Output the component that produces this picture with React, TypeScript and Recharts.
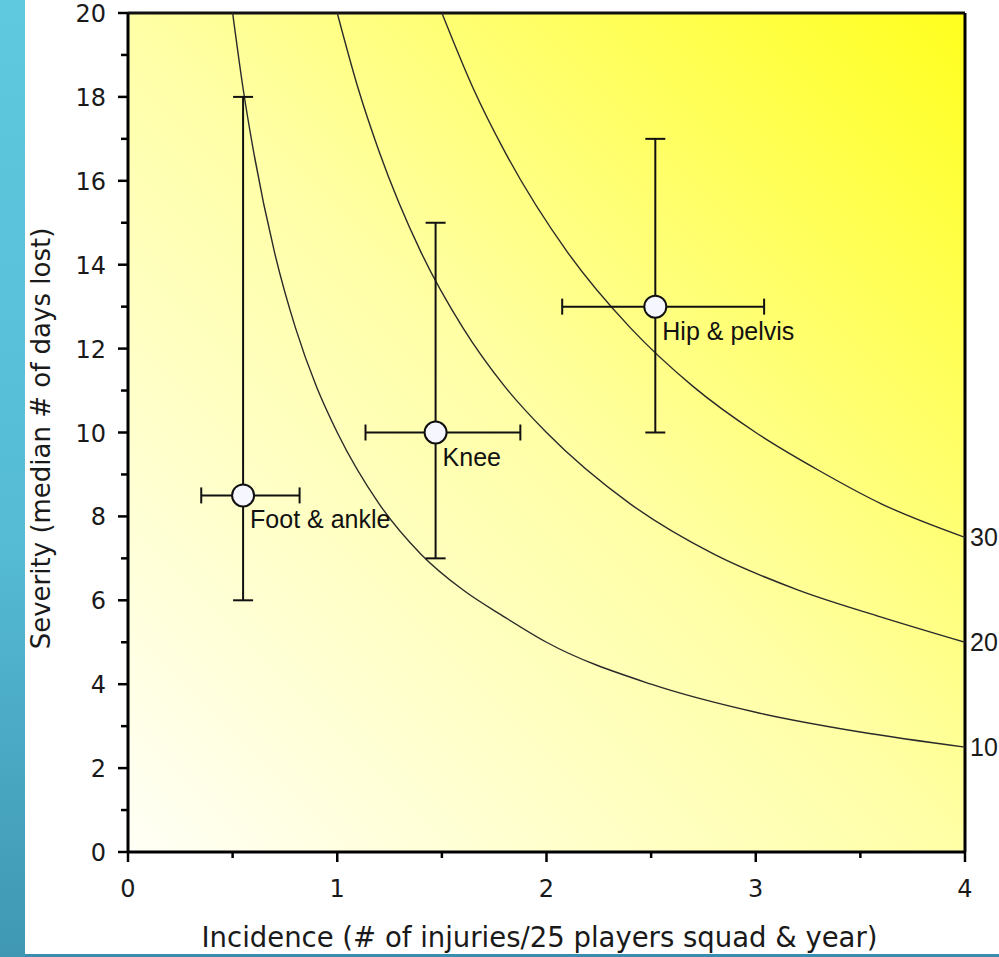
import React from 'react';
import { ComposedChart, Line, Scatter, XAxis, YAxis, ErrorBar, ReferenceLine, CartesianGrid, Label } from 'recharts';

// Tick values
const xTicks = [0, 0.5, 1, 1.5, 2, 2.5, 3, 3.5, 4];
const yTicks = [0, 1, 2, 3, 4, 5, 6, 7, 8, 9, 10, 11, 12, 13, 14, 15, 16, 17, 18, 19, 20];

// Injury sites
const siteNames = ['Foot & ankle', 'Knee', 'Hip & pelvis'];
const siteIncidence = [0.55, 1.47, 2.52];
const siteSeverity = [8.5, 10, 13];
const siteIncidenceErr = [[0.2, 0.27], [0.335, 0.405], [0.445, 0.52]];
const siteSeverityErr = [[2.5, 9.5], [3, 5], [3, 4]];

// Iso-burden curves (days lost per 25 players & year)
const burdenLabels = ['10', '20', '30'];
const burden10X = [0.5, 0.55, 0.6, 0.7, 0.8, 0.9, 1.0, 1.2, 1.4, 1.6, 1.8, 2.0, 2.5, 3.0, 3.5, 4.0];
const burden10Y = [20, 18.2, 16.7, 14.3, 12.5, 11.1, 10, 8.3, 7.1, 6.25, 5.6, 5, 4, 3.33, 2.86, 2.5];
const burden20X = [1.0, 1.1, 1.2, 1.4, 1.6, 1.8, 2.0, 2.4, 2.8, 3.2, 3.6, 4.0];
const burden20Y = [20, 18.2, 16.7, 14.3, 12.5, 11.1, 10, 8.3, 7.1, 6.25, 5.6, 5];
const burden30X = [1.5, 1.65, 1.8, 2.1, 2.4, 2.7, 3.0, 3.3, 3.6, 4.0];
const burden30Y = [20, 18.2, 16.7, 14.3, 12.5, 11.1, 10, 9.1, 8.3, 7.5];

const toLine = (xs: number[], ys: number[]) => xs.map((x, i) => ({ x, y: ys[i] }));
const burdenLines = [toLine(burden10X, burden10Y), toLine(burden20X, burden20Y), toLine(burden30X, burden30Y)];

const sites = siteNames.map((name, i) => ({
  name,
  x: siteIncidence[i],
  y: siteSeverity[i],
  ex: siteIncidenceErr[i],
  ey: siteSeverityErr[i],
}));

const TICK_FONT = '"DejaVu Sans", Verdana, sans-serif';
const LABEL_FONT = '"Liberation Sans", Arial, sans-serif';

const YTick = (props: any) => {
  const { x, y, payload } = props;
  const major = payload.value % 2 === 0;
  return (
    <g>
      <line x1={x - (major ? 10 : 7)} x2={x} y1={y} y2={y} stroke="#000" strokeWidth={2.5} />
      {major && (
        <text x={x - 22} y={y + 9} textAnchor="end" fontSize={24} fontFamily={TICK_FONT} fill="#1a1a1a">
          {payload.value}
        </text>
      )}
    </g>
  );
};

const XTick = (props: any) => {
  const { x, y, payload } = props;
  const major = Number.isInteger(payload.value);
  return (
    <g>
      <line x1={x} x2={x} y1={y} y2={y + (major ? 10 : 6)} stroke="#000" strokeWidth={2.5} />
      {major && (
        <text x={x} y={y + 45} textAnchor="middle" fontSize={24} fontFamily={TICK_FONT} fill="#1a1a1a">
          {payload.value}
        </text>
      )}
    </g>
  );
};

const SiteShape = (props: any) => {
  const { cx, cy, payload } = props;
  return (
    <g>
      <circle cx={cx} cy={cy} r={11} fill="#f6f6ff" stroke="#111" strokeWidth={2} />
      <text x={cx + 7} y={cy + 33} fontSize={25} fontFamily={LABEL_FONT} fill="#111">
        {payload.name}
      </text>
    </g>
  );
};

export default function App() {
  return (
    <div style={{ position: 'absolute', left: 0, top: 0, width: 999, height: 957, background: '#fff', overflow: 'hidden' }}>
      <div
        style={{
          position: 'absolute', left: 0, top: 0, width: 25, height: 957,
          background: 'linear-gradient(180deg, #5ec9df 0%, #56bcd6 55%, #3f97b3 100%)',
        }}
      />
      <div style={{ position: 'absolute', left: 25, top: 954, width: 974, height: 3, background: '#3a8db0' }} />
      <div style={{ position: 'absolute', left: 0, top: 0 }}>
        <ComposedChart width={999} height={957} margin={{ top: 13, right: 34, bottom: 45, left: 28 }}>
          <defs>
            <linearGradient id="bgGrad" x1="0" y1="1" x2="1" y2="0">
              <stop offset="0%" stopColor="#fffff6" />
              <stop offset="50%" stopColor="#ffffa6" />
              <stop offset="100%" stopColor="#ffff1e" />
            </linearGradient>
          </defs>
          <CartesianGrid horizontal={false} vertical={false} fill="url(#bgGrad)" stroke="none" />
          <XAxis
            type="number"
            dataKey="x"
            domain={[0, 4]}
            ticks={xTicks}
            interval={0}
            height={60}
            tickSize={0}
            tickMargin={0}
            tick={<XTick />}
            axisLine={{ stroke: '#000', strokeWidth: 3 }}
            tickLine={false}
            allowDataOverflow
          >
            <Label
              content={(p: any) => {
                const vb = p.viewBox;
                return (
                  <text x={vb.x + vb.width / 2 - 7} y={vb.y + 95} textAnchor="middle" fontSize={27.5} fontFamily={TICK_FONT} fill="#1a1a1a">
                    Incidence (# of injuries/25 players squad &amp; year)
                  </text>
                );
              }}
            />
          </XAxis>
          <YAxis
            type="number"
            dataKey="y"
            domain={[0, 20]}
            ticks={yTicks}
            interval={0}
            width={100}
            tickSize={0}
            tickMargin={0}
            tick={<YTick />}
            axisLine={{ stroke: '#000', strokeWidth: 3 }}
            tickLine={false}
            allowDataOverflow
          >
            <Label
              content={(p: any) => {
                const vb = p.viewBox;
                const cx = vb.x + 22;
                const cy = vb.y + vb.height / 2 + 6;
                return (
                  <text x={cx} y={cy} transform={`rotate(-90 ${cx} ${cy})`} textAnchor="middle" fontSize={26} fontFamily={TICK_FONT} fill="#1a1a1a">
                    Severity (median # of days lost)
                  </text>
                );
              }}
            />
          </YAxis>
          <ReferenceLine y={20} stroke="#111" strokeWidth={3} />
          <ReferenceLine x={4} stroke="#000" strokeWidth={3} />
          {burdenLines.map((data, i) => (
            <Line
              key={i}
              data={data}
              dataKey="y"
              type="monotone"
              stroke="#2a2a2a"
              strokeWidth={1.4}
              dot={false}
              activeDot={false}
              isAnimationActive={false}
              label={(p: any) =>
                p.index === data.length - 1 ? (
                  <text key={`l${i}`} x={p.x + 5} y={p.y + 9} fontSize={25} fontFamily={LABEL_FONT} fill="#1a1a1a">
                    {burdenLabels[i]}
                  </text>
                ) : (
                  <g key={`l${i}-${p.index}`} />
                )
              }
            />
          ))}
          <Scatter data={sites} dataKey="y" shape={<SiteShape />} isAnimationActive={false}>
            <ErrorBar dataKey="ex" direction="x" width={8} stroke="#111" strokeWidth={2} isAnimationActive={false} />
            <ErrorBar dataKey="ey" direction="y" width={10} stroke="#111" strokeWidth={2} isAnimationActive={false} />
          </Scatter>
        </ComposedChart>
      </div>
    </div>
  );
}
